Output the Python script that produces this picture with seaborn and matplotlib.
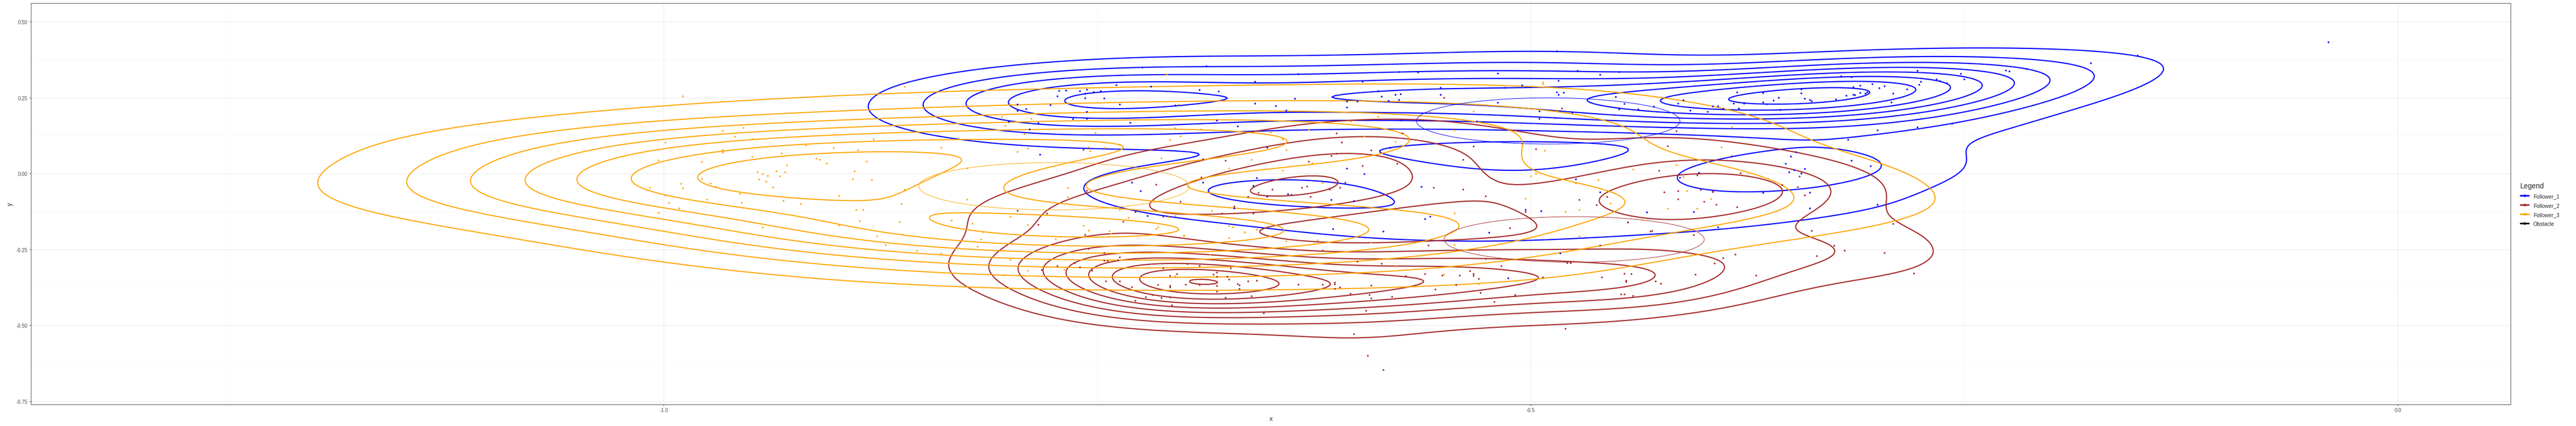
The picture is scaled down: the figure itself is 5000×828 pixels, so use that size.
import numpy as np
import pandas as pd
import seaborn as sns
import matplotlib
matplotlib.use("Agg")
import matplotlib.pyplot as plt
from matplotlib.lines import Line2D
from matplotlib.patches import Ellipse

# Follower_1 (blue) positions
f1_x = [-0.724, -0.687, -0.634, -0.659, -0.597, -0.576, -0.565, -0.739, -0.719, -0.691, -0.680,
        -0.772, -0.768, -0.760, -0.756, -0.752, -0.748, -0.757, -0.773, -0.757, -0.746,
        -0.796, -0.777, -0.796, -0.791, -0.756, -0.737, -0.705, -0.659, -0.647, -0.636,
        -0.606, -0.600, -0.606, -0.588, -0.586, -0.578, -0.575, -0.582, -0.576, -0.552, -0.552,
        -0.641, -0.764, -0.756, -0.784, -0.801, -0.789, -0.731, -0.681, -0.669, -0.575,
        -0.783, -0.652, -0.581, -0.606, -0.596, -0.658, -0.660, -0.652, -0.640, -0.615, -0.602,
        -0.730, -0.725, -0.689, -0.563, -0.561, -0.558, -0.671, -0.721, -0.614, -0.585,
        -0.485, -0.519, -0.473, -0.460, -0.449, -0.484, -0.505, -0.515, -0.485, -0.481, -0.484,
        -0.451, -0.446, -0.449, -0.438, -0.429, -0.519, -0.495, -0.486, -0.495, -0.476, -0.531,
        -0.412, -0.415, -0.408, -0.398, -0.395, -0.392, -0.389, -0.383, -0.380, -0.377,
        -0.381, -0.366, -0.366, -0.364, -0.360, -0.357, -0.356, -0.344, -0.344, -0.342, -0.339,
        -0.338, -0.324, -0.318, -0.314, -0.313, -0.310, -0.307, -0.306, -0.314, -0.310, -0.303,
        -0.299, -0.296, -0.291, -0.283, -0.321, -0.315, -0.277, -0.275, -0.276, -0.292, -0.300,
        -0.277, -0.317, -0.347, -0.350, -0.353, -0.342, -0.348, -0.351, -0.344, -0.339, -0.339,
        -0.315, -0.304, -0.300, -0.403, -0.414, -0.366, -0.406, -0.433, -0.444, -0.392,
        -0.474, -0.460, -0.494, -0.503, -0.524, -0.483, -0.513,
        -0.040, -0.150, -0.177, -0.226, -0.224, -0.214, -0.252, -0.250, -0.266, -0.264, -0.260, -0.257]
f1_y = [0.349, 0.353, 0.327, 0.302, 0.302, 0.334, 0.333, 0.291, 0.286, 0.275, 0.270,
        0.272, 0.273, 0.271, 0.276, 0.268, 0.271, 0.263, 0.254, 0.248, 0.247,
        0.227, 0.225, 0.206, 0.212, 0.203, 0.227, 0.224, 0.230, 0.222, 0.246,
        0.217, 0.237, 0.237, 0.271, 0.253, 0.259, 0.261, 0.239, 0.242, 0.282, 0.259,
        0.207, 0.179, 0.180, 0.166, 0.170, 0.145, 0.167, 0.174, 0.155, 0.175,
        0.062, 0.085, 0.084, 0.016, -0.002, -0.015, -0.041, -0.076, -0.068, -0.087, -0.091,
        -0.030, -0.058, -0.030, -0.044, -0.150, -0.142, -0.115, -0.140, -0.183, -0.191,
        0.402, 0.329, 0.338, 0.325, 0.334, 0.305, 0.290, 0.282, 0.267, 0.266, 0.259,
        0.252, 0.229, 0.211, 0.211, 0.220, 0.233, 0.205, 0.183, 0.180, 0.200, 0.171,
        0.241, 0.230, 0.207, 0.203, 0.221, 0.221, 0.213, 0.230, 0.214, 0.230,
        0.267, 0.265, 0.234, 0.228, 0.240, 0.249, 0.209, 0.277, 0.264, 0.246, 0.242,
        0.238, 0.244, 0.256, 0.259, 0.258, 0.265, 0.263, 0.267, 0.284, 0.289, 0.294,
        0.281, 0.287, 0.263, 0.277, 0.320, 0.317, 0.338, 0.302, 0.292, 0.234, 0.142,
        0.152, 0.111, 0.070, 0.056, 0.032, 0.015, 0.011, 0.004, 0.000, -0.063, -0.115,
        0.042, 0.024, -0.103, 0.002, -0.014, -0.064, -0.127, -0.128, -0.161, -0.177,
        -0.019, -0.062, -0.124, -0.120, -0.195, -0.263, -0.345,
        0.432, 0.388, 0.363, 0.339, 0.336, 0.344, 0.328, 0.310, 0.310, 0.304, 0.297, 0.164]

# Follower_2 (brown) positions
f2_x = [-0.612, -0.574, -0.609, -0.592, -0.612, -0.615, -0.628, -0.597, -0.577,
        -0.613, -0.607, -0.616, -0.610, -0.649, -0.638, -0.627, -0.657, -0.663, -0.632, -0.629,
        -0.689, -0.676, -0.690, -0.716, -0.758, -0.756, -0.751, -0.702, -0.671, -0.678, -0.660,
        -0.556, -0.728, -0.712, -0.796, -0.779, -0.784, -0.757, -0.735,
        -0.755, -0.746, -0.746, -0.744, -0.738, -0.737, -0.763, -0.760, -0.753, -0.773, -0.782,
        -0.745, -0.737, -0.730, -0.712, -0.704, -0.708, -0.698, -0.691, -0.673, -0.683, -0.681,
        -0.681, -0.675, -0.674, -0.715, -0.708, -0.708, -0.699, -0.691, -0.681, -0.669, -0.668,
        -0.663, -0.658, -0.668, -0.681, -0.718, -0.713, -0.708, -0.722, -0.728, -0.707, -0.676,
        -0.661, -0.654, -0.634, -0.620, -0.613, -0.613, -0.613, -0.610, -0.592, -0.604, -0.593,
        -0.592, -0.580, -0.595, -0.600, -0.586, -0.572, -0.561, -0.555, -0.559, -0.620,
        -0.602, -0.594, -0.585,
        -0.550, -0.482, -0.416, -0.533, -0.497, -0.539, -0.421, -0.384, -0.539, -0.526,
        -0.426, -0.404, -0.379, -0.345, -0.355, -0.346, -0.342, -0.423, -0.415, -0.402, -0.395,
        -0.395, -0.415, -0.400, -0.393, -0.381, -0.456, -0.472, -0.462, -0.503, -0.444, -0.431,
        -0.430, -0.406, -0.512, -0.338, -0.291,
        -0.460, -0.325, -0.319, -0.335, -0.296, -0.389, -0.382, -0.394, -0.279,
        -0.526, -0.517, -0.535, -0.533, -0.533, -0.541, -0.551, -0.530, -0.543, -0.529, -0.521,
        -0.509, -0.493, -0.479, -0.477, -0.459, -0.446, -0.442, -0.445, -0.445, -0.428, -0.425,
        -0.405, -0.370, -0.448, -0.446, -0.441, -0.480]
f2_y = [0.132, 0.132, 0.102, 0.076, 0.065, 0.058, 0.039, 0.025, 0.032,
        -0.030, -0.030, -0.053, -0.047, -0.053, -0.070, -0.077, -0.064, -0.077, -0.047, -0.043,
        0.047, 0.042, -0.013, -0.037, 0.078, -0.057, -0.084, -0.093, -0.109, -0.132, -0.132,
        -0.047, -0.127, -0.142, -0.123, -0.132, -0.169, -0.202, -0.159,
        -0.248, -0.262, -0.287, -0.288, -0.286, -0.276, -0.295, -0.309, -0.320, -0.305, -0.318,
        -0.355, -0.355, -0.374, -0.312, -0.331, -0.337, -0.298, -0.304, -0.312, -0.333, -0.326,
        -0.340, -0.340, -0.349, -0.367, -0.370, -0.375, -0.366, -0.367, -0.370, -0.364, -0.368,
        -0.355, -0.353, -0.380, -0.389, -0.400, -0.410, -0.408, -0.407, -0.419, -0.434, -0.409,
        -0.404, -0.460, -0.366, -0.366, -0.359, -0.365, -0.380, -0.375, -0.369, -0.396, -0.400,
        -0.411, -0.406, -0.452, -0.290, -0.297, -0.338, -0.331, -0.382, -0.237, -0.254,
        -0.529, -0.600, -0.647,
        0.249, 0.214, 0.139, 0.089, 0.080, 0.045, 0.090, 0.057, -0.053, -0.075,
        0.009, -0.006, 0.001, -0.010, -0.038, -0.045, -0.072, -0.062, -0.058, -0.054, -0.060,
        -0.061, -0.085, -0.093, -0.103, -0.111, -0.077, -0.087, -0.104, -0.127, -0.161, -0.191,
        -0.189, -0.203, -0.180, -0.189, -0.166,
        -0.237, -0.238, -0.254, -0.272, -0.262, -0.279, -0.267, -0.296, -0.329,
        -0.281, -0.305, -0.321, -0.331, -0.337, -0.336, -0.336, -0.347, -0.367, -0.393, -0.423,
        -0.400, -0.342, -0.295, -0.295, -0.342, -0.330, -0.331, -0.353, -0.357, -0.355, -0.363,
        -0.333, -0.336, -0.398, -0.398, -0.403, -0.511]

# Follower_3 (orange) positions
f3_x = [-0.989, -0.861, -0.954, -0.966, -0.959, -0.999, -0.949, -0.879, -0.918, -0.902, -0.888,
        -0.966, -0.966, -1.003, -0.978, -0.949, -0.932, -0.912, -0.910, -0.906, -0.883, -0.929,
        -0.946, -0.943, -0.940, -0.935, -0.933, -0.930, -0.945, -0.941, -0.937, -0.978,
        -0.973, -0.970, -0.990, -0.989, -1.008, -0.999, -0.997, -0.991, -1.003, -0.975,
        -0.956, -0.955, -0.931, -0.921, -0.899, -0.890, -0.891, -0.880, -0.861, -0.863,
        -0.889, -0.885, -0.887, -0.899, -0.943, -0.864, -0.877, -0.862, -0.872, -0.854,
        -0.710, -0.703, -0.805, -0.788, -0.803, -0.792, -0.840, -0.790, -0.796, -0.755, -0.746,
        -0.754, -0.737, -0.751, -0.708, -0.702, -0.705, -0.690, -0.650, -0.643, -0.641, -0.628,
        -0.624, -0.604, -0.588, -0.596, -0.578, -0.558, -0.626, -0.661, -0.674, -0.643, -0.713,
        -0.825, -0.767, -0.767, -0.825, -0.737, -0.732, -0.800, -0.834, -0.822, -0.816, -0.817,
        -0.790, -0.758, -0.755, -0.743, -0.742, -0.771, -0.774, -0.709, -0.705, -0.684, -0.715,
        -0.716, -0.674, -0.672, -0.658, -0.665, -0.674, -0.700, -0.700, -0.620, -0.641, -0.623,
        -0.819, -0.840, -0.800, -0.790, -0.804, -0.769, -0.705, -0.614, -0.634, -0.592, -0.578,
        -0.685,
        -0.493, -0.493, -0.533, -0.544, -0.485, -0.384, -0.390, -0.492, -0.500, -0.497,
        -0.441, -0.416, -0.412, -0.474, -0.461, -0.454, -0.410, -0.396, -0.421, -0.404,
        -0.503, -0.480, -0.472, -0.544, -0.435, -0.472, -0.404, -0.544, -0.530, -0.550]
f3_y = [0.254, 0.285, 0.150, 0.140, 0.121, 0.102, 0.113, 0.113, 0.092, 0.084, 0.077,
        0.077, 0.069, 0.043, 0.038, 0.055, 0.066, 0.049, 0.045, 0.033, 0.039, 0.027,
        0.004, -0.002, -0.008, 0.007, -0.009, 0.004, -0.020, -0.027, -0.046, -0.017,
        -0.033, -0.044, -0.034, -0.049, -0.047, -0.073, -0.097, -0.115, -0.130, -0.086,
        -0.067, -0.097, -0.090, -0.101, -0.074, 0.007, -0.019, -0.022, -0.053, -0.100,
        -0.120, -0.120, -0.157, -0.171, -0.178, -0.160, -0.207, -0.202, -0.236, -0.255,
        0.326, 0.227, 0.186, 0.180, 0.157, 0.130, 0.085, 0.082, 0.071, 0.086, 0.084,
        0.073, 0.095, 0.133, 0.110, 0.122, 0.149, 0.145, 0.135, 0.112, 0.077, 0.144,
        0.168, 0.171, 0.187, 0.121, 0.104, 0.202, 0.034, 0.045, 0.016, 0.009, 0.050,
        0.017, -0.048, -0.078, -0.086, -0.120, -0.146, -0.143, -0.155, -0.165, -0.193, -0.217,
        -0.170, -0.172, -0.188, -0.190, -0.198, -0.208, -0.216, -0.144, -0.140, -0.123, -0.177,
        -0.183, -0.173, -0.177, -0.185, -0.194, -0.213, -0.204, -0.206, -0.031, -0.223, -0.220,
        -0.241, -0.264, -0.284, -0.320, -0.335, -0.317, -0.338, -0.260, -0.270, -0.227, -0.306,
        -0.268,
        0.300, 0.294, 0.204, 0.142, 0.208, 0.153, 0.086, 0.075, -0.009, -0.001,
        0.013, 0.028, -0.011, -0.033, -0.022, -0.099, -0.058, -0.084, -0.116, -0.116,
        -0.083, -0.126, -0.120, -0.131, -0.154, -0.207, -0.190, -0.235, -0.364, -0.333]

# thin circles drawn per follower (centre x, centre y, radius)
circle_follower = ["Follower_1", "Follower_2", "Follower_3"]
circle_x = [-0.490, -0.475, -0.775]
circle_y = [0.173, -0.217, -0.042]
circle_r = [0.076, 0.075, 0.078]

series = ["Follower_1", "Follower_2", "Follower_3", "Obstacle"]
colors = {"Follower_1": "#0000FF", "Follower_2": "#A52A2A",
          "Follower_3": "#FFA500", "Obstacle": "#000000"}
line_w = {"Follower_1": 1.6, "Follower_2": 1.6, "Follower_3": 1.5}
# bandwidth stretch (x, y) per follower, and weight for overplotted samples
bw_mult = {"Follower_1": (1.0, 1.0), "Follower_2": (1.0, 1.0), "Follower_3": (1.9, 1.1)}
sample_weight = {"Follower_1": 1.0, "Follower_2": 1.0, "Follower_3": 1.9}

df = pd.concat([
    pd.DataFrame({"x": f1_x, "y": f1_y, "who": "Follower_1"}),
    pd.DataFrame({"x": f2_x, "y": f2_y, "who": "Follower_2"}),
    pd.DataFrame({"x": f3_x, "y": f3_y, "who": "Follower_3"}),
])

sns.set_theme(style="white")
plt.rcParams["font.family"] = ["Liberation Sans", "DejaVu Sans"]

xlim = (-1.365, 0.065)
ylim = (-0.76, 0.561)

fig = plt.figure(figsize=(50, 8.29), dpi=100)
ax = fig.add_axes([0.012, 0.0507, 0.9626, 0.9409])


# 2d density like MASS::kde2d with bandwidth.nrd
def bw_nrd(v):
    q = np.quantile(v, [0.25, 0.75])
    h = (q[1] - q[0]) / 1.34
    return 4 * 1.06 * min(np.std(v, ddof=1), h) * len(v) ** (-0.2)


def kde2d(x, y, gx, gy, mult=(1.0, 1.0)):
    hx = bw_nrd(x) * mult[0] / 4
    hy = bw_nrd(y) * mult[1] / 4
    ax_ = (gx[:, None] - x[None, :]) / hx
    ay_ = (gy[:, None] - y[None, :]) / hy
    kx = np.exp(-0.5 * ax_ ** 2) / np.sqrt(2 * np.pi)
    ky = np.exp(-0.5 * ay_ ** 2) / np.sqrt(2 * np.pi)
    return (kx @ ky.T) / (len(x) * hx * hy)


gx = np.linspace(xlim[0], xlim[1], 300)
gy = np.linspace(ylim[0], ylim[1], 300)
dens = {}
for who, g in df.groupby("who"):
    dens[who] = sample_weight[who] * kde2d(g["x"].values, g["y"].values, gx, gy, bw_mult[who])

zmax = max(z.max() for z in dens.values())
raw = zmax / 10
mag = 10 ** np.floor(np.log10(raw))
step = min(s for s in [1, 2, 5, 10] if s * mag >= raw) * mag
levels = np.arange(step, zmax, step)

for who in ["Follower_1", "Follower_2", "Follower_3"]:
    ax.contour(gx, gy, dens[who].T, levels=levels, colors=colors[who],
               linewidths=line_w[who], zorder=2)

for who, cx, cy, r in zip(circle_follower, circle_x, circle_y, circle_r):
    ax.add_patch(Ellipse((cx, cy), 2 * r, 2 * r, fill=False,
                         edgecolor=colors[who], linewidth=0.7, zorder=2))

sns.scatterplot(data=df, x="x", y="y", hue="who", palette=colors, s=6,
                linewidth=0, legend=False, ax=ax, zorder=3)

ax.set_xlim(xlim)
ax.set_ylim(ylim)
ax.set_xticks([-1.0, -0.5, 0.0])
ax.set_xticklabels(["-1.0", "-0.5", "0.0"])
ax.set_yticks([-0.75, -0.5, -0.25, 0.0, 0.25, 0.5])
ax.set_yticklabels(["-0.75", "-0.50", "-0.25", "0.00", "0.25", "0.50"])
ax.set_xticks([-1.25, -0.75, -0.25], minor=True)
ax.set_yticks([-0.625, -0.375, -0.125, 0.125, 0.375], minor=True)
ax.grid(True, which="major", color="#EBEBEB", linewidth=0.8)
ax.grid(True, which="minor", color="#F4F4F4", linewidth=0.5)
ax.tick_params(which="major", length=2.5, width=0.6, color="#333333",
               labelsize=7, labelcolor="#4D4D4D", pad=2, bottom=True, left=True)
ax.tick_params(which="minor", length=0)
for sp in ax.spines.values():
    sp.set_color("#333333")
    sp.set_linewidth(0.6)
ax.set_xlabel("x", fontsize=9, labelpad=4)
ax.set_ylabel("y", fontsize=9, labelpad=4)

handles = [Line2D([0], [0], color=colors[s], lw=2.2, marker="o", markersize=2.5)
           for s in series]
leg = fig.legend(handles, series, title="Legend", loc="center left",
                 bbox_to_anchor=(0.9775, 0.52), frameon=False, fontsize=7.5,
                 title_fontsize=10, handlelength=1.6, labelspacing=0.75,
                 borderaxespad=0, handletextpad=0.8)
leg._legend_box.align = "left"

fig.savefig("out.png", dpi=100)
